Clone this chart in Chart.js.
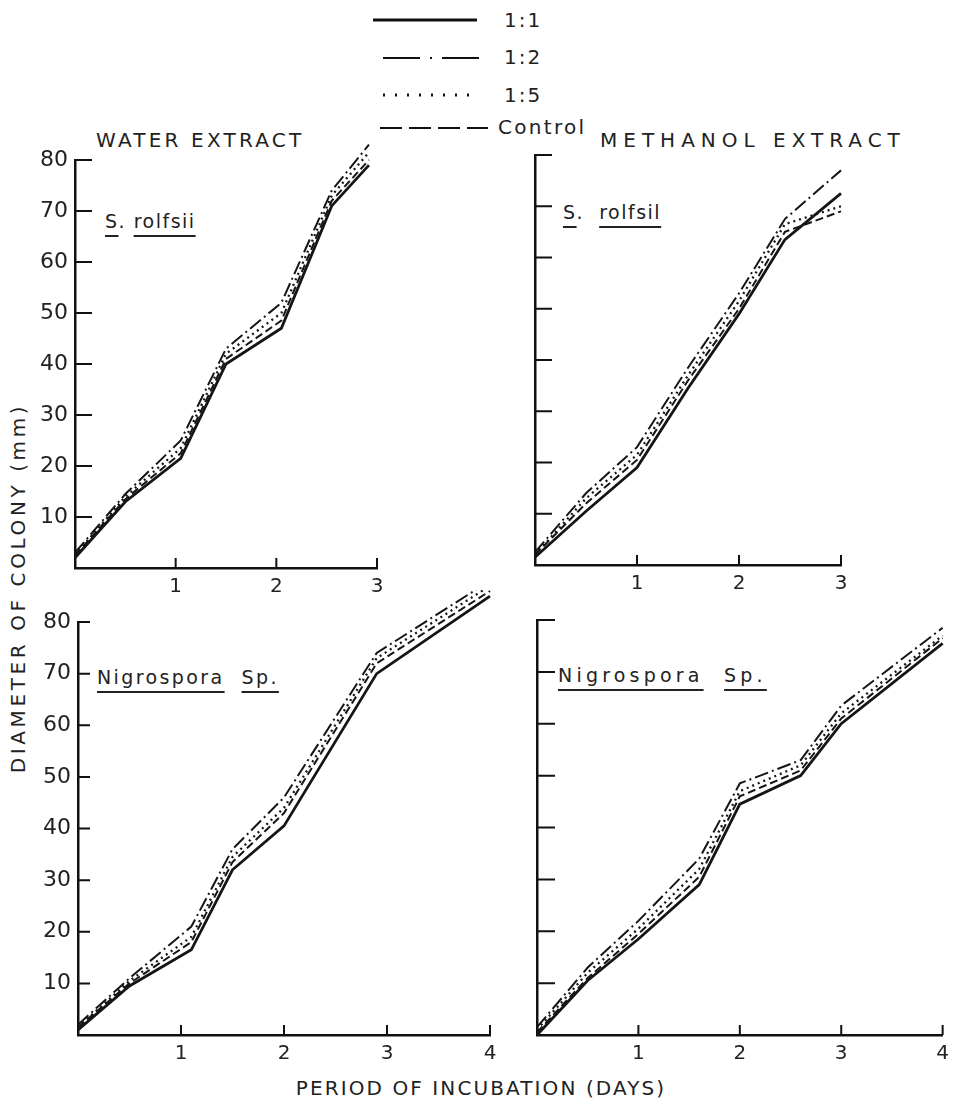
<!DOCTYPE html>
<html lang="en">

<head>
    <meta charset="UTF-8" />
    <title>Diameter of colony</title>
    <script src="https://cdn.jsdelivr.net/npm/chart.js"></script>
    <style>
        body {
            margin: 0;
            background: #fff;
            font-family: "DejaVu Sans", sans-serif;
            color: #222;
        }

        #page {
            position: relative;
            width: 956px;
            height: 1114px;
            overflow: hidden;
        }

        canvas {
            position: absolute;
        }

        .txt {
            position: absolute;
            white-space: nowrap;
            font-size: 20px;
            line-height: 24px;
            letter-spacing: 2px;
        }

        .ul {
            text-decoration: underline;
            text-decoration-thickness: 2px;
            text-underline-offset: 7px;
        }
    </style>
</head>

<body>
    <div id="page">
        <svg style="position:absolute;left:368px;top:0" width="130" height="145">
            <g stroke="#111" fill="none">
                <line x1="5" y1="20" x2="109" y2="20" stroke-width="3" />
                <line x1="15" y1="58" x2="111" y2="58" stroke-width="2" stroke-dasharray="37 10 2 10" />
                <line x1="15" y1="95" x2="104" y2="95" stroke-width="3" stroke-dasharray="2 10" />
                <line x1="12" y1="128" x2="120" y2="128" stroke-width="2" stroke-dasharray="22 7" />
            </g>
        </svg>
        <div class="txt" style="left:504px;top:8px">1:1</div>
        <div class="txt" style="left:504px;top:45px">1:2</div>
        <div class="txt" style="left:504px;top:83px">1:5</div>
        <div class="txt" style="left:498px;top:115px;letter-spacing:2.3px">Control</div>

        <div class="txt" style="left:96px;top:128px;letter-spacing:3.2px">WATER EXTRACT</div>
        <div class="txt" style="left:600px;top:128px;letter-spacing:6px">METHANOL EXTRACT</div>

        <div class="txt" style="left:105px;top:209px;font-size:19px;letter-spacing:1.5px"><span class="ul">S</span>. <span class="ul">rolfsii</span></div>
        <div class="txt" style="left:563px;top:200px;font-size:19px;letter-spacing:1.5px"><span class="ul">S</span>.&nbsp; <span class="ul">rolfsil</span></div>
        <div class="txt" style="left:97px;top:665px;font-size:19px;letter-spacing:2.4px"><span class="ul">Nigrospora</span>&nbsp; <span class="ul">Sp.</span></div>
        <div class="txt" style="left:558px;top:663px;font-size:19px;letter-spacing:4.2px"><span class="ul">Nigrospora</span>&nbsp; <span class="ul">Sp.</span></div>

        <div class="txt" style="left:18px;top:588px;transform:translate(-50%,-50%) rotate(-90deg);letter-spacing:3.6px">DIAMETER OF COLONY (mm)</div>
        <div class="txt" style="left:481px;top:1088px;transform:translate(-50%,-50%);letter-spacing:2.1px">PERIOD OF INCUBATION (DAYS)</div>

        <canvas id="wS" width="400" height="480" style="left:0;top:130px"></canvas>
        <canvas id="mS" width="400" height="480" style="left:460px;top:130px"></canvas>
        <canvas id="wN" width="520" height="500" style="left:0;top:590px"></canvas>
        <canvas id="mN" width="496" height="500" style="left:460px;top:590px"></canvas>
    </div>

    <script>
        const seriesNames = ['1:1', '1:2', '1:5', 'Control'];
        const yTicks = [10, 20, 30, 40, 50, 60, 70, 80];
        const xTicksTop = [1, 2, 3];
        const xTicksBottom = [1, 2, 3, 4];

        // water extract, S. rolfsii
        const wS_days = [0, 0.5, 1.05, 1.5, 2.05, 2.55, 2.92];
        const wS_11 = [2, 13, 21.5, 40, 47, 71, 79];
        const wS_12 = [3, 14.5, 25, 43, 52, 74, 83];
        const wS_15 = [2.5, 14, 23.5, 42, 50, 73, 81.5];
        const wS_ctrl = [2.5, 13.5, 22.5, 41, 48.5, 72, 80];

        // methanol extract, S. rolfsii
        const mS_days = [0, 0.5, 1, 1.5, 2, 2.45, 3];
        const mS_11 = [1.5, 10.5, 19, 34.5, 49, 63.5, 72.5];
        const mS_12 = [2.5, 14, 23, 38.5, 53, 67.5, 77];
        const mS_15 = [2, 13, 21.5, 37, 51.5, 66.5, 70];
        const mS_ctrl = [2, 12, 20.5, 36, 50, 65, 69];

        // water extract, Nigrospora sp.
        const wN_days = [0, 0.5, 1.1, 1.5, 2, 2.9, 4];
        const wN_11 = [1, 9.5, 16.5, 32, 40.5, 70, 85];
        const wN_12 = [2, 11, 21, 36, 46, 74, 88];
        const wN_15 = [1.5, 10.5, 19, 34.5, 44, 73, 87];
        const wN_ctrl = [1.5, 10, 18, 33.5, 43, 72, 86];

        // methanol extract, Nigrospora sp.
        const mN_days = [0, 0.5, 1, 1.6, 2, 2.6, 3, 4];
        const mN_11 = [0, 10.5, 18.5, 29, 44.5, 50, 60, 75.5];
        const mN_12 = [1.5, 13, 22, 34, 48.5, 53, 63.5, 78.5];
        const mN_15 = [1, 12, 20.5, 32, 47, 52, 62, 77];
        const mN_ctrl = [0.5, 11, 19.5, 30.5, 46, 51, 61, 76.5];

        const lineStyles = [
            { borderWidth: 2.8, borderDash: [] },
            { borderWidth: 2, borderDash: [14, 4, 2, 4] },
            { borderWidth: 2.3, borderDash: [2, 4] },
            { borderWidth: 2, borderDash: [8, 4] }
        ];

        // short tick marks drawn inside the plot, from the axes
        const innerTicks = {
            id: 'innerTicks',
            afterDatasetsDraw(chart, args, opts) {
                const { ctx, chartArea, scales: { x, y } } = chart;
                ctx.save();
                ctx.strokeStyle = '#111';
                ctx.lineWidth = 2;
                ctx.beginPath();
                y.ticks.forEach(t => {
                    const py = y.getPixelForValue(t.value);
                    ctx.moveTo(chartArea.left, py);
                    ctx.lineTo(chartArea.left + opts.yLen, py);
                });
                x.ticks.forEach(t => {
                    const px = x.getPixelForValue(t.value);
                    ctx.moveTo(px, chartArea.bottom);
                    ctx.lineTo(px, chartArea.bottom - opts.xLen);
                });
                ctx.stroke();
                ctx.restore();
            }
        };

        function makePanel(id, days, ys, xTicks, o) {
            const datasets = ys.map((vals, i) => ({
                label: seriesNames[i],
                data: days.map((d, j) => ({ x: d, y: vals[j] })),
                borderColor: '#151515',
                borderWidth: lineStyles[i].borderWidth,
                borderDash: lineStyles[i].borderDash,
                pointRadius: 0,
                tension: 0,
                fill: false,
                clip: false
            }));
            new Chart(document.getElementById(id), {
                type: 'line',
                data: { datasets },
                plugins: [innerTicks],
                options: {
                    responsive: false,
                    animation: false,
                    events: [],
                    layout: { padding: { top: o.top, right: o.right, left: 0, bottom: 0 } },
                    plugins: {
                        legend: { display: false },
                        tooltip: { enabled: false },
                        innerTicks: { yLen: o.yLen, xLen: 10 }
                    },
                    scales: {
                        x: {
                            type: 'linear',
                            min: 0,
                            max: xTicks[xTicks.length - 1],
                            afterBuildTicks: s => { s.ticks = xTicks.map(v => ({ value: v })); },
                            afterFit: s => { s.height = o.bottom; },
                            grid: { display: false, drawTicks: false },
                            border: { display: true, color: '#111', width: 2.5 },
                            ticks: { color: '#222', padding: 7, font: { family: 'DejaVu Sans', size: 20 } }
                        },
                        y: {
                            min: 0,
                            max: 80,
                            afterBuildTicks: s => { s.ticks = yTicks.map(v => ({ value: v })); },
                            afterFit: s => { s.width = o.left; },
                            grid: { display: false, drawTicks: false },
                            border: { display: true, color: '#111', width: 2.5 },
                            ticks: { display: o.yLabels, color: '#222', padding: 7, font: { family: 'DejaVu Sans', size: 22 } }
                        }
                    }
                }
            });
        }

        makePanel('wS', wS_days, [wS_11, wS_12, wS_15, wS_ctrl], xTicksTop,
            { top: 30, right: 23, left: 75, bottom: 42, yLen: 17, yLabels: true });
        makePanel('mS', mS_days, [mS_11, mS_12, mS_15, mS_ctrl], xTicksTop,
            { top: 25, right: 19, left: 75, bottom: 45, yLen: 17, yLabels: false });
        makePanel('wN', wN_days, [wN_11, wN_12, wN_15, wN_ctrl], xTicksBottom,
            { top: 32, right: 30, left: 78, bottom: 55, yLen: 12, yLabels: true });
        makePanel('mN', mN_days, [mN_11, mN_12, mN_15, mN_ctrl], xTicksBottom,
            { top: 30, right: 6, left: 77, bottom: 55, yLen: 18, yLabels: false });
    </script>
</body>

</html>
